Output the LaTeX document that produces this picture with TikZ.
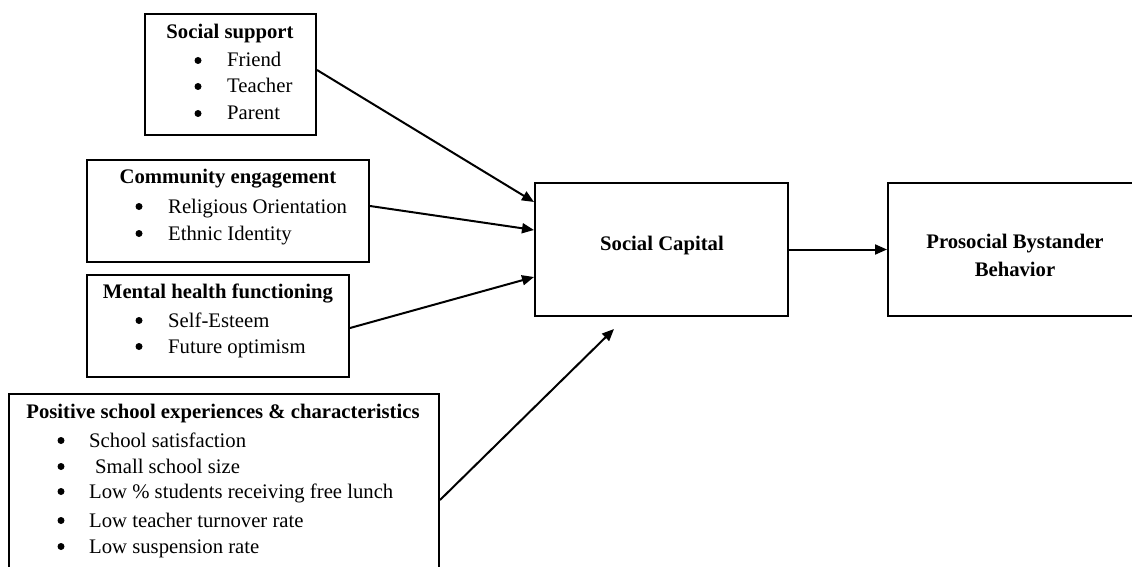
\documentclass[tikz,border=0pt]{standalone}
\usepackage{fontspec}
\setmainfont{Liberation Serif}
\usetikzlibrary{arrows.meta}
\begin{document}
\begin{tikzpicture}[x=1pt,y=-1pt,
  box/.style={draw, line width=2pt, rectangle, inner sep=0pt},
  txt/.style={inner sep=0pt, anchor=base, font=\fontsize{20.7}{25}\selectfont},
  ttl/.style={txt, font=\fontsize{20.7}{25}\selectfont\bfseries},
  itm/.style={txt, anchor=base west},
  bul/.style={circle, fill, inner sep=0pt, minimum size=7pt},
  conn/.style={line width=2pt, -{Triangle[length=12pt,width=10pt]}}]
\useasboundingbox (0,0) rectangle (1132,567);
\clip (0,0) rectangle (1132,567);
% boxes
\node[box, minimum width=171pt, minimum height=121pt] (ss) at (230.5,74.5) {};
\node[box, minimum width=282pt, minimum height=102pt] (ce) at (228,211) {};
\node[box, minimum width=262pt, minimum height=102pt] (mh) at (218,326) {};
\node[box, minimum width=430pt, minimum height=220pt] (ps) at (224,504) {};
\node[box, minimum width=253pt, minimum height=133pt] (sc) at (661.5,249.5) {};
\node[box, minimum width=254pt, minimum height=133pt] (pb) at (1015,249.5) {};
% social support
\node[ttl] (ssT) at (230,39) {Social support};
\node[bul] (ssB1) at (198,60.5) {};
\node[itm] (ssI1) at (227,67) {Friend};
\node[bul] (ssB2) at (198,86.5) {};
\node[itm] (ssI2) at (227,93) {Teacher};
\node[bul] (ssB3) at (198,113.5) {};
\node[itm] (ssI3) at (227,120) {Parent};
% community engagement
\node[ttl] (ceT) at (228,183) {Community engagement};
\node[bul] (ceB1) at (139,206.5) {};
\node[itm] (ceI1) at (168,213) {Religious Orientation};
\node[bul] (ceB2) at (139,233.5) {};
\node[itm] (ceI2) at (168,240) {Ethnic Identity};
% mental health
\node[ttl] (mhT) at (218,298) {Mental health functioning};
\node[bul] (mhB1) at (139,320.5) {};
\node[itm] (mhI1) at (168,327) {Self-Esteem};
\node[bul] (mhB2) at (139,346.5) {};
\node[itm] (mhI2) at (168,353) {Future optimism};
% positive school
\node[ttl] (psT) at (223,418) {Positive school experiences \& characteristics};
\node[bul] (psB1) at (61,440.5) {};
\node[itm] (psI1) at (89,447) {School satisfaction};
\node[bul] (psB2) at (61,466.5) {};
\node[itm] (psI2) at (95,473) {Small school size};
\node[bul] (psB3) at (61,491.5) {};
\node[itm] (psI3) at (89,498) {Low \% students receiving free lunch};
\node[bul] (psB4) at (61,520.5) {};
\node[itm] (psI4) at (89,527) {Low teacher turnover rate};
\node[bul] (psB5) at (61,546.5) {};
\node[itm] (psI5) at (89,553) {Low suspension rate};
% outcome boxes
\node[ttl] (scT) at (662,250) {Social Capital};
\node[ttl] (pbT1) at (1015,248) {Prosocial Bystander};
\node[ttl] (pbT2) at (1015,276) {Behavior};
% connectors
\coordinate (psEnd) at (614,329);
\draw[conn] ([yshift=4.5pt]ss.east) -- ([yshift=47.5pt]sc.west);
\draw[conn] ([yshift=5pt]ce.east) -- ([yshift=19.5pt]sc.west);
\draw[conn] ([yshift=-2pt]mh.east) -- ([yshift=-27.5pt]sc.west);
\draw[conn] ([yshift=4pt]ps.east) -- (psEnd);
\draw[conn] (sc.east) -- (pb.west);
\end{tikzpicture}
\end{document}
